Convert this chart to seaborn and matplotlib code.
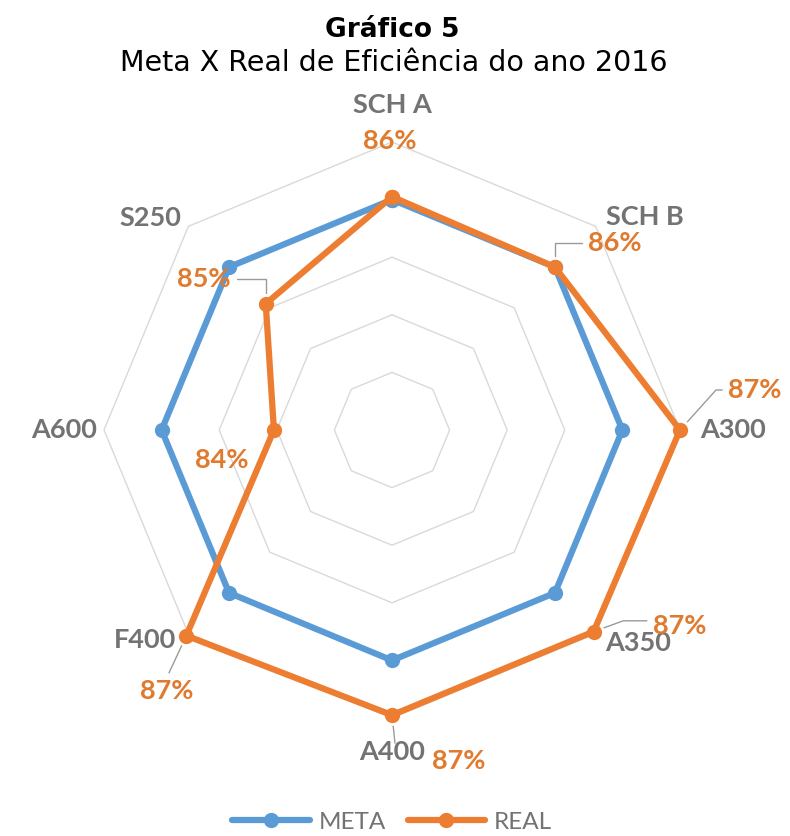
import numpy as np
import pandas as pd
import matplotlib
matplotlib.use("Agg")
import matplotlib.pyplot as plt
import seaborn as sns

# ---------------- data ----------------
categories = ["SCH A", "SCH B", "A300", "A350", "A400", "F400", "A600", "S250"]
meta = [86.0, 86.0, 86.0, 86.0, 86.0, 86.0, 86.0, 86.0]
real = [86.05, 86.0, 87.0, 86.95, 86.95, 87.05, 84.05, 85.1]
real_labels = ["86%", "86%", "87%", "87%", "87%", "87%", "84%", "85%"]
series_names = ["META", "REAL"]
grid_levels = [83, 84, 85, 86, 87]
r_min = 82
title = "Gráfico 5"
subtitle = "Meta X Real de Eficiência do ano 2016"

# ---------------- styling ----------------
colors = {"META": "#5b9bd5", "REAL": "#ed7d31"}
label_color = "#e07a2e"
cat_color = "#737373"
grid_color = "#d9d9d9"
leader_color = "#9a9a9a"

sns.set_theme(style="white")
plt.rcParams["font.family"] = ["DejaVu Sans"]

n = len(categories)
angles = [2 * np.pi * i / n for i in range(n)]

rows = []
for name, vals in zip(series_names, [meta, real]):
    for i in range(n + 1):
        rows.append({"series": name, "theta": angles[i] if i < n else 2 * np.pi,
                     "value": vals[i % n]})
df = pd.DataFrame(rows)

fig = plt.figure(figsize=(7.9, 8.36), dpi=100)
ax = fig.add_axes([(392 - 288) / 790, (836 - 430 - 288) / 836, 576 / 790, 576 / 836],
                  projection="polar")
ax.set_theta_zero_location("N")
ax.set_theta_direction(-1)

# octagonal grid
closed = angles + [2 * np.pi]
for g in grid_levels:
    ax.plot(closed, [g] * (n + 1), color=grid_color, lw=1.0, zorder=1, clip_on=False)

n_before = len(ax.lines)
sns.lineplot(data=df, x="theta", y="value", hue="series", hue_order=series_names,
             palette=colors, sort=False, estimator=None, marker="o", markersize=11,
             markeredgewidth=0, linewidth=4.5, ax=ax, legend=False, clip_on=False,
             zorder=3)
series_lines = ax.lines[n_before:]

ax.set_ylim(r_min, max(grid_levels))
ax.set_xticks([])
ax.set_yticks([])
ax.grid(False)
ax.spines["polar"].set_visible(False)
ax.set_xlabel("")
ax.set_ylabel("")
ax.patch.set_alpha(0)

# category labels (offset in pixels from outer vertex)
cat_offsets = [(0, 37), (49, 9), (53, 0), (42, -9), (0, -34), (-43, -6), (-40, 0), (-38, 8)]
for ang, cat, off in zip(angles, categories, cat_offsets):
    ax.annotate(cat, xy=(ang, max(grid_levels)), xytext=off, textcoords="offset pixels",
                ha="center", va="center", fontsize=19.5, fontweight="bold",
                color=cat_color, family=["Lato", "DejaVu Sans"], zorder=4,
                annotation_clip=False)

# data labels for REAL
lab_offsets = [(-2, 56), (60, 24), (75, 40), (86, 6), (67, -46), (-20, -55), (-52, -30), (-62, 25)]
leaders = [None,
           dict(relpos=(0, 0.5), connectionstyle="angle,angleA=0,angleB=90,rad=0"),
           dict(relpos=(0, 0.5), connectionstyle="angle,angleA=0,angleB=48,rad=0"),
           dict(relpos=(0, 0.7), connectionstyle="angle,angleA=0,angleB=20,rad=0"),
           None,
           dict(relpos=(0.5, 1), connectionstyle="arc3"),
           None,
           dict(relpos=(1, 0.5), connectionstyle="angle,angleA=0,angleB=90,rad=0")]
for ang, val, txt, off, ld in zip(angles, real, real_labels, lab_offsets, leaders):
    kw = {}
    if ld is not None:
        kw["arrowprops"] = dict(arrowstyle="-", color=leader_color, lw=1.0, shrinkA=2,
                                shrinkB=8, **ld)
    ax.annotate(txt, xy=(ang, val), xytext=off, textcoords="offset pixels",
                ha="center", va="center", fontsize=19.5, fontweight="bold",
                color=label_color, family=["Lato", "DejaVu Sans"], zorder=5,
                annotation_clip=False, **kw)

# short vertical leader under A400
ax.annotate("", xy=(angles[4], real[4]), xytext=(3, -28), textcoords="offset pixels",
            arrowprops=dict(arrowstyle="-", color=leader_color, lw=1.0, shrinkA=0, shrinkB=8),
            annotation_clip=False)

fig.text(392 / 790, 1 - 30 / 836, title, ha="center", va="center", fontsize=19,
         fontweight="bold", color="black")
fig.text(394 / 790, 1 - 63 / 836, subtitle, ha="center", va="center", fontsize=20.5,
         color="black")

leg = fig.legend(series_lines, series_names, loc="center", bbox_to_anchor=(392 / 790, 14 / 836),
                 ncol=2, frameon=False, handlelength=3.2, handletextpad=0.35,
                 columnspacing=0.9, prop={"family": ["Lato", "DejaVu Sans"], "size": 17.5})
for t in leg.get_texts():
    t.set_color(cat_color)

fig.savefig("out.png", dpi=100)
